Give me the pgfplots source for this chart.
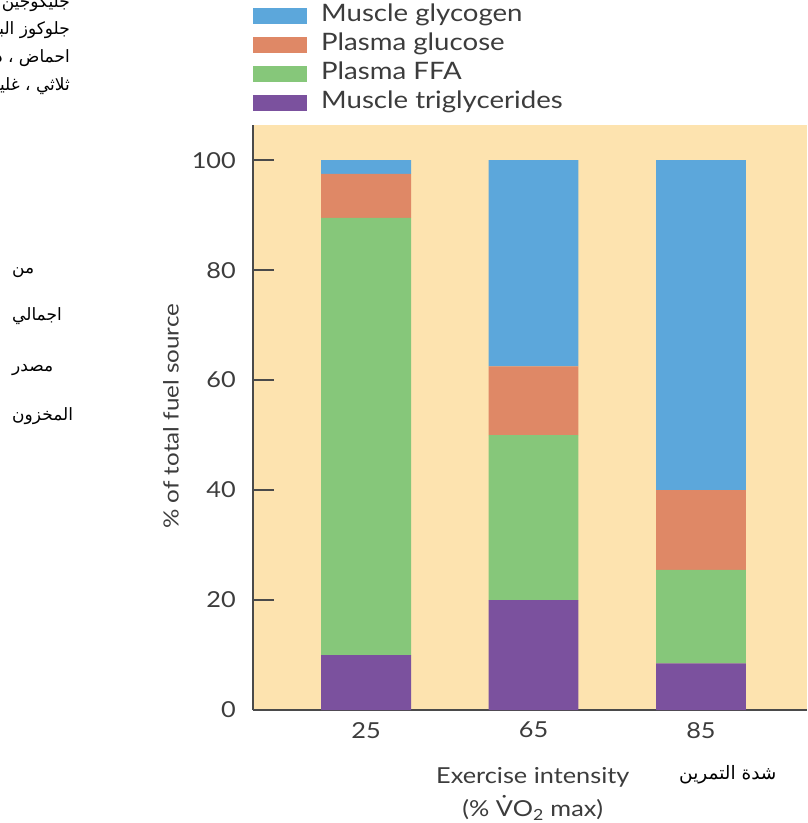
\documentclass[border=0pt]{standalone}
\usepackage{fontspec}
\setmainfont[FakeStretch=1.15]{Lato}
\newfontfamily\arabicfont[Script=Arabic]{DejaVu Sans}
\usepackage{pgfplots}
\usepackage{pgfplotstable}
\pgfplotsset{compat=1.18}
\TeXXeTstate=1

\definecolor{cream}{HTML}{FDE3AF}
\definecolor{glycogen}{HTML}{5CA7DB}
\definecolor{glucose}{HTML}{DF8866}
\definecolor{ffa}{HTML}{86C77A}
\definecolor{trig}{HTML}{7B519E}
\definecolor{textgray}{HTML}{3C3C3C}
\definecolor{axisgray}{HTML}{4A4A4A}

% share of each fuel source (%) at 25, 65 and 85 % VO2max
\pgfplotstableread{
x trig ffa glucose glycogen
0 10  79.5 8    2.5
1 20  30   12.5 37.5
2 8.5 17   14.5 60
}\fuel

\begin{document}
\begin{tikzpicture}[x=1pt,y=1pt]
\useasboundingbox (0,0) rectangle (807,823);
\begin{axis}[
  at={(253pt,113pt)}, anchor=south west,
  scale only axis, width=554pt, height=585pt,
  xmin=-0.675, xmax=2.633, ymin=0, ymax=106.4,
  ybar stacked, bar width=0.537,
  axis background/.style={fill=cream},
  axis x line*=bottom, axis y line*=left,
  axis line style={draw=axisgray, line width=1.8pt},
  xtick={0,1,2}, xticklabels={25,65,85},
  x tick style={draw=none},
  ytick={0,20,...,100},
  y tick style={draw=axisgray, line width=1.8pt},
  tick align=inside, major tick length=21pt,
  /pgf/number format/assume math mode=true,
  tick label style={font=\fontsize{22}{26}\selectfont, text=textgray},
  yticklabel style={anchor=east, inner sep=0pt, xshift=-17pt},
  xticklabel style={anchor=north, inner sep=0pt, yshift=-12pt},
  ylabel={\% of total fuel source},
  every axis y label/.style={at={(axis description cs:-0.148,0.502)}, rotate=90, anchor=center,
    font=\fontsize{21}{24}\selectfont, text=textgray},
  xlabel={Exercise intensity\\(\% \.{V}O\textsubscript{2} max)},
  every axis x label/.style={at={(axis description cs:0.505,-0.143)}, anchor=center, align=center,
    font=\fontsize{22}{33}\selectfont, text=textgray},
  reverse legend,
  legend cell align=left,
  legend image code/.code={\fill[#1, draw=none] (0pt,-8pt) rectangle (54pt,8pt);},
  legend style={draw=none, fill=none, at={(axis description cs:0,1.205)}, anchor=north west,
    inner sep=0pt, row sep=8pt, font=\fontsize{24}{28}\selectfont, text=textgray,
    nodes={inner sep=0pt, text height=16pt, text depth=5pt},
    /tikz/every odd column/.append style={column sep=14pt}},
]
\addplot[fill=trig, draw=none] table[x=x, y=trig] {\fuel};
\addplot[fill=ffa, draw=none] table[x=x, y=ffa] {\fuel};
\addplot[fill=glucose, draw=none] table[x=x, y=glucose] {\fuel};
\addplot[fill=glycogen, draw=none] table[x=x, y=glycogen] {\fuel};
\legend{Muscle triglycerides, Plasma FFA, Plasma glucose, Muscle glycogen}
\end{axis}

% Arabic side notes
\begin{scope}[every node/.style={font=\arabicfont\fontsize{17}{20}\selectfont, text=black, inner sep=0pt}]
\node[anchor=base east] at (70,815) {\beginR جليكوجين العضلات\endR};
\node[anchor=base east] at (70,788) {\beginR جلوكوز البلازما\endR};
\node[anchor=base east] at (70,760) {\beginR احماض ، دهنية حرة\endR};
\node[anchor=base east] at (70,732) {\beginR ثلاثي ، غليسريد العضلات\endR};
\node[anchor=base west] at (12,549) {\beginR من\endR};
\node[anchor=base west] at (12,502) {\beginR اجمالي\endR};
\node[anchor=base west] at (12,451) {\beginR مصدر\endR};
\node[anchor=base west] at (12,402) {\beginR المخزون\endR};
\node[anchor=base west, font=\arabicfont\fontsize{18.5}{20}\selectfont] at (679,43) {\beginR شدة التمرين\endR};
\end{scope}
\end{tikzpicture}
\end{document}
